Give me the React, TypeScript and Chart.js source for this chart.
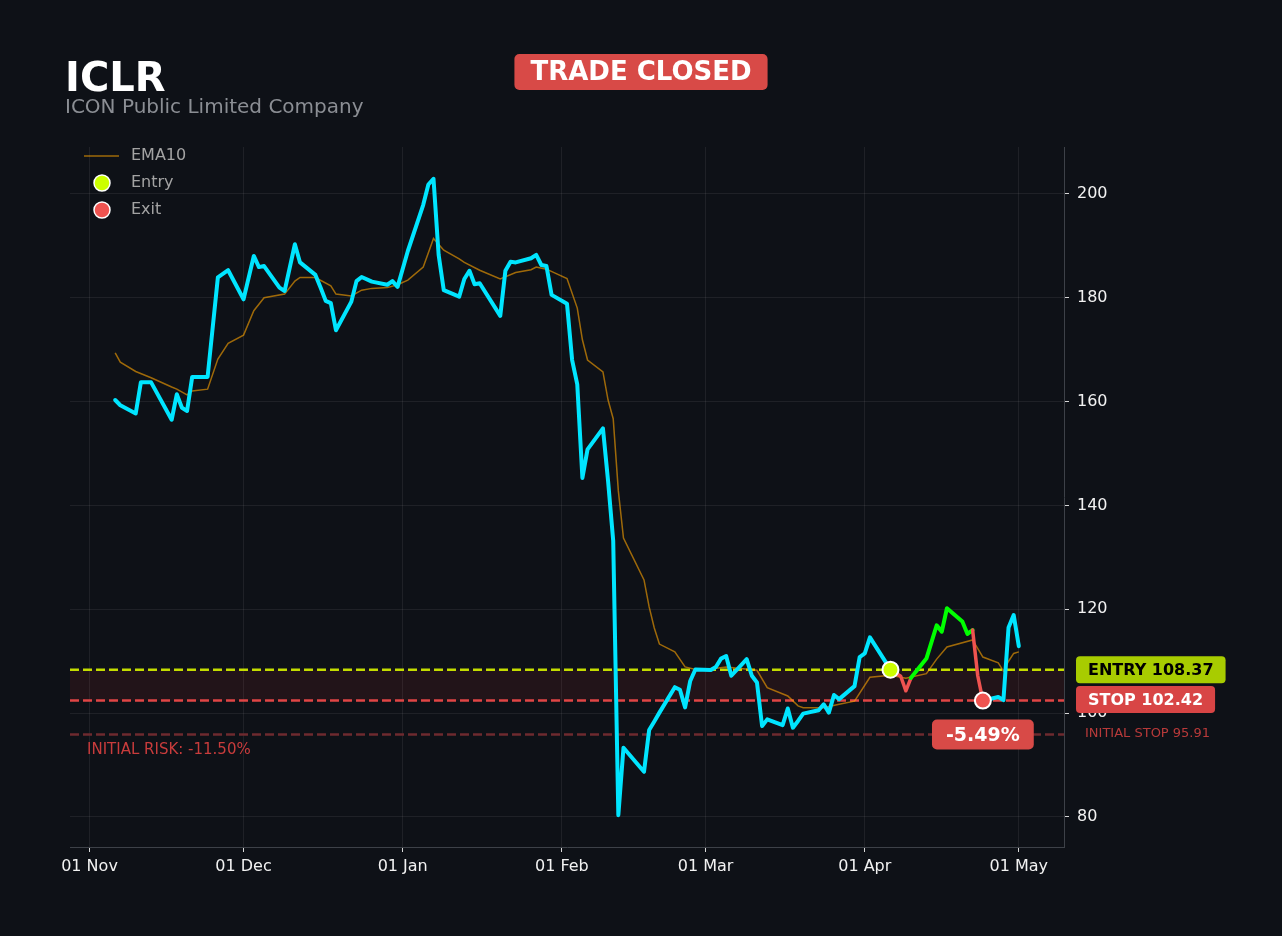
import React, { useEffect, useRef } from "react";
import { Chart, registerables } from "chart.js";

Chart.register(...registerables);

const FONT = "'DejaVu Sans', sans-serif";

const ticker = "ICLR";
const companyName = "ICON Public Limited Company";
const statusText = "TRADE CLOSED";

const tickDates = ["2025-11-01", "2025-12-01", "2026-01-01", "2026-02-01", "2026-03-01", "2026-04-01", "2026-05-01"];
const tickLabels = ["01 Nov", "01 Dec", "01 Jan", "01 Feb", "01 Mar", "01 Apr", "01 May"];
const yTicks = [80, 100, 120, 140, 160, 180, 200];

const priceDates = [
  "2025-11-06", "2025-11-07", "2025-11-10", "2025-11-11", "2025-11-12", "2025-11-13", "2025-11-17", "2025-11-18",
  "2025-11-19", "2025-11-20", "2025-11-21", "2025-11-24", "2025-11-26", "2025-11-28", "2025-12-01", "2025-12-03",
  "2025-12-04", "2025-12-05", "2025-12-08", "2025-12-09", "2025-12-11", "2025-12-12", "2025-12-15", "2025-12-16",
  "2025-12-17", "2025-12-18", "2025-12-19", "2025-12-22", "2025-12-23", "2025-12-24", "2025-12-26", "2025-12-29",
  "2025-12-30", "2025-12-31", "2026-01-02", "2026-01-05", "2026-01-06", "2026-01-07", "2026-01-08", "2026-01-09",
  "2026-01-12", "2026-01-13", "2026-01-14", "2026-01-15", "2026-01-16", "2026-01-20", "2026-01-21", "2026-01-22",
  "2026-01-23", "2026-01-26", "2026-01-27", "2026-01-28", "2026-01-29", "2026-01-30", "2026-02-02", "2026-02-03",
  "2026-02-04", "2026-02-05", "2026-02-06", "2026-02-09", "2026-02-10", "2026-02-11", "2026-02-12", "2026-02-13",
  "2026-02-17", "2026-02-18", "2026-02-19", "2026-02-20", "2026-02-23", "2026-02-24", "2026-02-25", "2026-02-26",
  "2026-02-27", "2026-03-02", "2026-03-03", "2026-03-04", "2026-03-05", "2026-03-06", "2026-03-09", "2026-03-10",
  "2026-03-11", "2026-03-12", "2026-03-13", "2026-03-16", "2026-03-17", "2026-03-18", "2026-03-19", "2026-03-20",
  "2026-03-23", "2026-03-24", "2026-03-25", "2026-03-26", "2026-03-27", "2026-03-30", "2026-03-31", "2026-04-01",
  "2026-04-02", "2026-04-06", "2026-04-08", "2026-04-09", "2026-04-10", "2026-04-13", "2026-04-15", "2026-04-16",
  "2026-04-17", "2026-04-20", "2026-04-21", "2026-04-22", "2026-04-23", "2026-04-24", "2026-04-27", "2026-04-28",
  "2026-04-29", "2026-04-30", "2026-05-01",
];
const priceValues = [
  160.3, 159.3, 157.7, 163.7, 163.7, 163.7, 156.5, 161.4,
  158.8, 158.2, 164.75, 164.75, 183.9, 185.3, 179.7, 188.05,
  185.9, 186.1, 181.95, 181.3, 190.3, 186.8, 184.4, 181.95,
  179.4, 178.95, 173.75, 179.25, 183.2, 184.0, 183.1, 182.5,
  183.2, 182.1, 189.0, 197.9, 201.8, 202.9, 188.25, 181.45,
  180.2, 183.6, 185.2, 182.6, 182.8, 176.5, 185.2, 186.95,
  186.8, 187.6, 188.25, 186.3, 186.1, 180.55, 178.85, 168.0,
  163.3, 145.3, 150.8, 154.85, 144.7, 133.2, 80.35, 93.35,
  88.7, 96.75, 98.4, 100.1, 105.0, 104.5, 101.1, 106.2,
  108.4, 108.3, 108.9, 110.5, 111.0, 107.2, 110.4, 107.2,
  105.9, 97.5, 98.8, 97.7, 100.9, 97.2, 98.5, 99.9,
  100.55, 101.7, 100.1, 103.5, 102.7, 105.2, 110.8, 111.5,
  114.6, 108.37, 107.1, 104.3, 106.8, 110.5, 116.9, 115.7,
  120.2, 117.65, 115.25, 116.0, 107.2, 102.42, 103.1, 102.5,
  116.5, 118.9, 112.9,
];

const emaDates = [
  "2025-11-06", "2025-11-07", "2025-11-10", "2025-11-13", "2025-11-17", "2025-11-18", "2025-11-20", "2025-11-21",
  "2025-11-24", "2025-11-26", "2025-11-28", "2025-12-01", "2025-12-03", "2025-12-05", "2025-12-09", "2025-12-11",
  "2025-12-12", "2025-12-15", "2025-12-18", "2025-12-19", "2025-12-22", "2025-12-24", "2025-12-26", "2025-12-29",
  "2025-12-31", "2026-01-02", "2026-01-05", "2026-01-07", "2026-01-09", "2026-01-12", "2026-01-13", "2026-01-16",
  "2026-01-20", "2026-01-23", "2026-01-26", "2026-01-27", "2026-01-29", "2026-02-02", "2026-02-04", "2026-02-05",
  "2026-02-06", "2026-02-09", "2026-02-10", "2026-02-11", "2026-02-12", "2026-02-13", "2026-02-17", "2026-02-18",
  "2026-02-19", "2026-02-20", "2026-02-23", "2026-02-25", "2026-02-27", "2026-03-02", "2026-03-05", "2026-03-11",
  "2026-03-13", "2026-03-17", "2026-03-19", "2026-03-20", "2026-03-24", "2026-03-27", "2026-03-30", "2026-04-02",
  "2026-04-06", "2026-04-09", "2026-04-13", "2026-04-15", "2026-04-17", "2026-04-22", "2026-04-24", "2026-04-27",
  "2026-04-28", "2026-04-29", "2026-04-30", "2026-05-01",
];
const emaValues = [
  169.4, 167.6, 165.8, 164.6, 162.8, 162.4, 161.3, 162.05,
  162.4, 168.2, 171.2, 172.8, 177.5, 180.0, 180.7, 183.2,
  183.9, 183.9, 182.3, 180.7, 180.35, 181.45, 181.8, 181.95,
  182.5, 183.4, 185.9, 191.4, 189.15, 187.5, 186.8, 185.3,
  183.6, 184.85, 185.4, 185.9, 185.5, 183.7, 178.0, 171.9,
  168.0, 165.7, 160.3, 156.7, 142.8, 133.7, 125.65, 120.45,
  116.4, 113.3, 111.8, 108.9, 108.4, 108.5, 108.9, 108.25,
  104.9, 103.3, 101.4, 101.05, 101.05, 101.7, 102.3, 106.9,
  107.3, 106.7, 107.6, 110.4, 112.75, 114.1, 110.8, 109.7,
  108.1, 110.0, 111.5, 111.8,
];

const entryDate = "2026-04-06";
const entryPrice = 108.37;
const exitDate = "2026-04-24";
const exitPrice = 102.42;
const stopPrice = 102.42;
const initialStop = 95.91;

const BG = "#0e1117";
const CYAN = "#00e5ff";
const GREEN = "#00ff00";
const RED = "#ef5350";
const EMA_COLOR = "rgba(255,165,0,0.6)";
const ENTRY_COLOR = "#ccff00";
const BADGE_RED = "#d84a47";

function dayNum(s: string): number {
  return Date.parse(s + "T00:00:00Z") / 86400000;
}

function badge(
  ctx: CanvasRenderingContext2D,
  text: string,
  x: number,
  cy: number,
  font: string,
  bg: string,
  fg: string,
  padX: number,
  h: number,
  align: "left" | "center",
  radius: number
) {
  ctx.font = font;
  const w = ctx.measureText(text).width + 2 * padX;
  const left = align === "center" ? x - w / 2 : x;
  ctx.fillStyle = bg;
  ctx.beginPath();
  (ctx as any).roundRect(left, cy - h / 2, w, h, radius);
  ctx.fill();
  ctx.fillStyle = fg;
  ctx.textAlign = "center";
  ctx.textBaseline = "middle";
  ctx.fillText(text, left + w / 2, cy + 1);
}

export default function App() {
  const canvasRef = useRef<HTMLCanvasElement | null>(null);

  useEffect(() => {
    document.body.style.margin = "0";
    document.body.style.background = BG;
    const canvas = canvasRef.current;
    if (!canvas) return;

    const priceDays = priceDates.map(dayNum);
    const emaDays = emaDates.map(dayNum);
    const tickDays = tickDates.map(dayNum);
    const entryDay = dayNum(entryDate);
    const exitDay = dayNum(exitDate);

    const xFirst = Math.min(...priceDays, ...emaDays);
    const xLast = Math.max(...priceDays, ...emaDays);
    const xPad = (xLast - xFirst) * 0.05;
    const allY = [...priceValues, ...emaValues, entryPrice, exitPrice, stopPrice, initialStop];
    const yLo = Math.min(...allY);
    const yHi = Math.max(...allY);
    const yPad = (yHi - yLo) * 0.05;

    const inTrade = (i0: number, i1: number) => priceDays[i0] >= entryDay && priceDays[i1] <= exitDay;

    const overlay = {
      id: "overlay",
      beforeDatasetsDraw(chart: any) {
        const { ctx, chartArea: a, scales } = chart;
        const y = scales.y;
        const yE = y.getPixelForValue(entryPrice);
        const yS = y.getPixelForValue(stopPrice);
        const yI = y.getPixelForValue(initialStop);
        ctx.save();
        ctx.fillStyle = "rgba(220,50,50,0.1)";
        ctx.fillRect(a.left, yE, a.right - a.left, yS - yE);
        const dashLine = (py: number, color: string) => {
          ctx.strokeStyle = color;
          ctx.lineWidth = 2.5;
          ctx.setLineDash([9, 4]);
          ctx.beginPath();
          ctx.moveTo(a.left, py);
          ctx.lineTo(a.right, py);
          ctx.stroke();
        };
        dashLine(yI, "#6e2a2f");
        dashLine(yS, "#e04545");
        dashLine(yE, "#c4dd00");
        ctx.restore();
      },
      afterDraw(chart: any) {
        const { ctx, chartArea: a, scales } = chart;
        const x = scales.x;
        const y = scales.y;
        const yE = y.getPixelForValue(entryPrice);
        const yS = y.getPixelForValue(stopPrice);
        const yI = y.getPixelForValue(initialStop);
        const xX = x.getPixelForValue(exitDay);
        const yX = y.getPixelForValue(exitPrice);
        ctx.save();

        // Title
        ctx.textAlign = "left";
        ctx.textBaseline = "alphabetic";
        ctx.fillStyle = "#ffffff";
        ctx.font = `bold 40px ${FONT}`;
        ctx.fillText(ticker, 65, 91);
        ctx.fillStyle = "#8b8e94";
        ctx.font = `20px ${FONT}`;
        ctx.fillText(companyName, 65, 113);

        badge(ctx, statusText, chart.width / 2, 72, `bold 26px ${FONT}`, BADGE_RED, "#ffffff", 16, 36, "center", 5);

        // Right labels
        badge(ctx, `ENTRY ${entryPrice.toFixed(2)}`, a.right + 12, yE, `bold 16px ${FONT}`, "#a8cc00", "#000000", 12, 27, "left", 4);
        badge(ctx, `STOP ${stopPrice.toFixed(2)}`, a.right + 12, yS - 1, `bold 16px ${FONT}`, "#d84545", "#ffffff", 12, 27, "left", 4);
        ctx.font = `13px ${FONT}`;
        ctx.fillStyle = "#b83a3a";
        ctx.textAlign = "left";
        ctx.textBaseline = "middle";
        ctx.fillText(`INITIAL STOP ${initialStop.toFixed(2)}`, a.right + 21, yI - 1);

        // Initial risk
        const risk = ((initialStop - entryPrice) / entryPrice) * 100;
        ctx.font = `15px ${FONT}`;
        ctx.fillStyle = "#c83c3c";
        ctx.fillText(`INITIAL RISK: ${risk.toFixed(2)}%`, a.left + 17, yI + 16);

        // Result badge
        const result = ((exitPrice - entryPrice) / entryPrice) * 100;
        badge(ctx, `${result.toFixed(2)}%`, xX, yX + 34, `bold 19px ${FONT}`, BADGE_RED, "#ffffff", 14, 30, "center", 5);

        // Legend
        const lx = a.left + 14;
        const rows = [a.top + 9, a.top + 36, a.top + 63];
        ctx.strokeStyle = EMA_COLOR;
        ctx.lineWidth = 1.5;
        ctx.beginPath();
        ctx.moveTo(lx, rows[0]);
        ctx.lineTo(lx + 35, rows[0]);
        ctx.stroke();
        const circle = (cy: number, fill: string) => {
          ctx.beginPath();
          ctx.arc(lx + 18, cy, 8, 0, Math.PI * 2);
          ctx.fillStyle = fill;
          ctx.fill();
          ctx.strokeStyle = "#ffffff";
          ctx.lineWidth = 1.5;
          ctx.stroke();
        };
        circle(rows[1], ENTRY_COLOR);
        circle(rows[2], RED);
        ctx.font = `16px ${FONT}`;
        ctx.fillStyle = "#a3a3a3";
        ctx.textAlign = "left";
        ctx.textBaseline = "middle";
        ctx.fillText("EMA10", lx + 47, rows[0]);
        ctx.fillText("Entry", lx + 47, rows[1]);
        ctx.fillText("Exit", lx + 47, rows[2]);

        ctx.restore();
      },
    };

    const chart = new Chart(canvas, {
      type: "line",
      data: {
        datasets: [
          {
            label: "Entry",
            data: [{ x: entryDay, y: entryPrice }],
            showLine: false,
            pointRadius: 8,
            pointBackgroundColor: ENTRY_COLOR,
            pointBorderColor: "#ffffff",
            pointBorderWidth: 2,
            order: 0,
          },
          {
            label: "Exit",
            data: [{ x: exitDay, y: exitPrice }],
            showLine: false,
            pointRadius: 8,
            pointBackgroundColor: RED,
            pointBorderColor: "#ffffff",
            pointBorderWidth: 2,
            order: 0,
          },
          {
            label: "Price",
            data: priceDays.map((d, i) => ({ x: d, y: priceValues[i] })),
            borderColor: CYAN,
            borderWidth: 4,
            pointRadius: 0,
            tension: 0,
            borderJoinStyle: "round",
            borderCapStyle: "round",
            segment: {
              borderColor: (c: any) =>
                inTrade(c.p0DataIndex, c.p1DataIndex)
                  ? priceValues[c.p1DataIndex] >= entryPrice
                    ? GREEN
                    : RED
                  : CYAN,
              borderWidth: (c: any) =>
                inTrade(c.p0DataIndex, c.p1DataIndex) && priceValues[c.p1DataIndex] < entryPrice ? 3.5 : 4,
            },
            order: 1,
          } as any,
          {
            label: "EMA10",
            data: emaDays.map((d, i) => ({ x: d, y: emaValues[i] })),
            borderColor: EMA_COLOR,
            borderWidth: 1.5,
            pointRadius: 0,
            tension: 0,
            order: 2,
          },
        ],
      },
      options: {
        animation: false,
        responsive: true,
        maintainAspectRatio: false,
        layout: { padding: { left: 70, top: 147, right: 0, bottom: 0 } },
        plugins: { legend: { display: false }, tooltip: { enabled: false }, title: { display: false } },
        scales: {
          x: {
            type: "linear",
            min: xFirst - xPad,
            max: xLast + xPad,
            afterFit: (s: any) => {
              s.height = 89;
            },
            afterBuildTicks: (s: any) => {
              s.ticks = tickDays.map((v) => ({ value: v }));
            },
            ticks: {
              autoSkip: false,
              maxRotation: 0,
              color: "#f2f2f2",
              font: { family: FONT, size: 16 },
              padding: 5,
              callback: (_v: any, i: number) => tickLabels[i],
            },
            grid: { color: "rgba(255,255,255,0.07)", tickColor: "#d8d8d8", tickLength: 5, lineWidth: 1 },
            border: { color: "#3d4148", width: 1 },
          },
          y: {
            type: "linear",
            position: "right",
            min: yLo - yPad,
            max: yHi + yPad,
            afterFit: (s: any) => {
              s.width = 218;
            },
            afterBuildTicks: (s: any) => {
              s.ticks = yTicks.map((v) => ({ value: v }));
            },
            ticks: {
              color: "#f2f2f2",
              font: { family: FONT, size: 16 },
              padding: 8,
              callback: (v: any) => String(v),
            },
            grid: { color: "rgba(255,255,255,0.07)", tickColor: "#d8d8d8", tickLength: 5, lineWidth: 1 },
            border: { color: "#3d4148", width: 1 },
          },
        },
      } as any,
      plugins: [overlay],
    });

    return () => chart.destroy();
  }, []);

  return (
    <div style={{ position: "relative", width: 1282, height: 936, background: BG }}>
      <canvas ref={canvasRef} />
    </div>
  );
}
